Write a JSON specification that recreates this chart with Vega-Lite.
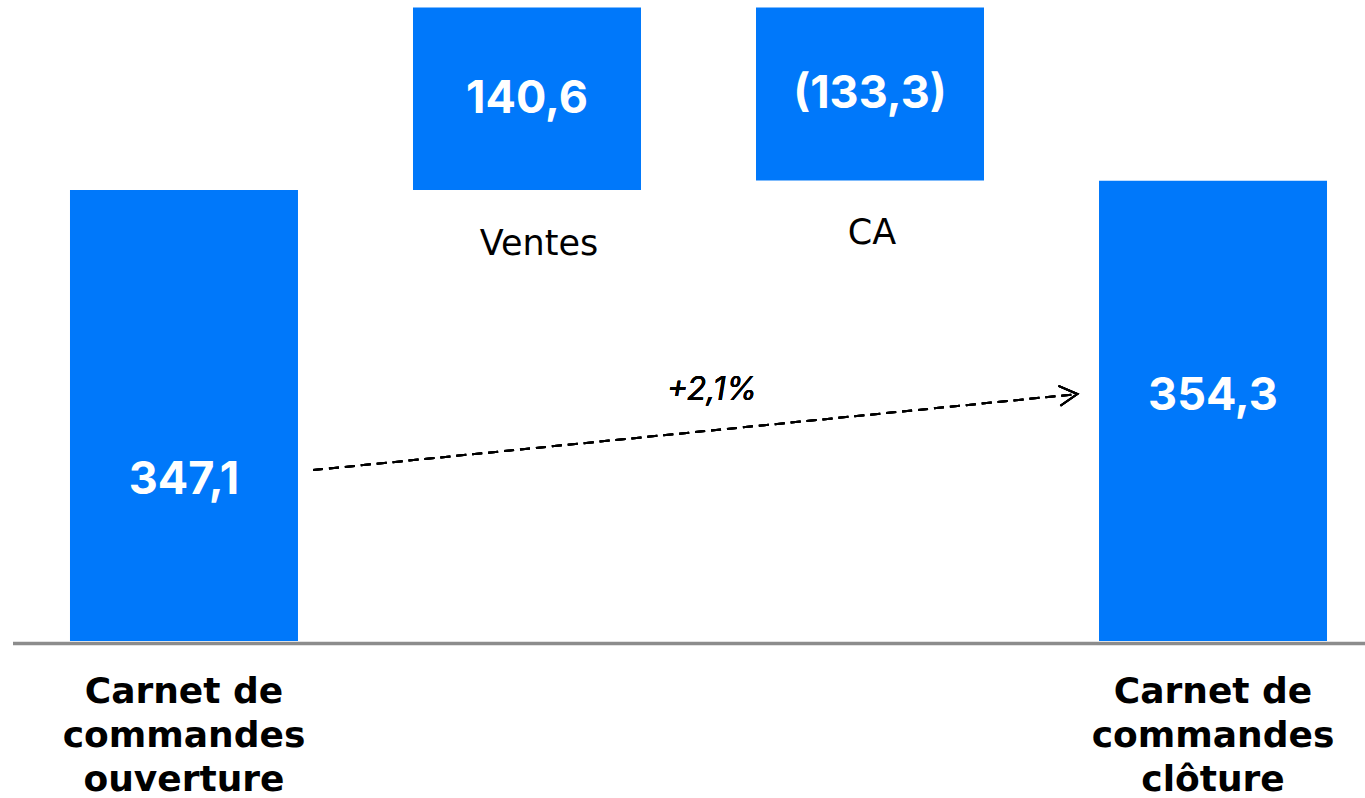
{
  "$schema": "https://vega.github.io/schema/vega-lite/v6.json",
  "width": 1365,
  "height": 643,
  "autosize": {"type": "none"},
  "padding": {"left": 0, "right": 0, "top": 0, "bottom": 155},
  "config": {"view": {"stroke": null}, "font": "Inter"},
  "data": {"values": [
    {"category": "Carnet de commandes ouverture", "start": 0, "end": 347.1, "label": "347,1"},
    {"category": "Ventes", "start": 347.1, "end": 487.7, "label": "140,6"},
    {"category": "CA", "start": 487.7, "end": 354.4, "label": "(133,3)"},
    {"category": "Carnet de commandes clôture", "start": 0, "end": 354.3, "label": "354,3"}
  ]},
  "encoding": {
    "x": {
      "field": "category", "type": "nominal", "sort": null,
      "scale": {"range": [12.5, 1384.5], "paddingInner": 0.3353, "paddingOuter": 0.1676},
      "axis": {
        "title": null, "labelAngle": 0, "ticks": false, "grid": false,
        "domainColor": "#8c8c8c", "domainWidth": 3.5,
        "labelFont": "DejaVu Sans", "labelFontSize": 36, "labelFontWeight": "bold", "labelColor": "#000000",
        "labelLineHeight": 44, "labelPadding": 31, "labelBaseline": "top", "labelLimit": 500,
        "labelOverlap": false, "labelBound": false, "labelFlush": false,
        "labelExpr": "indexof(datum.value, 'Carnet') == 0 ? ['Carnet de', 'commandes', slice(datum.value, 20)] : ''"
      }
    }
  },
  "layer": [
    {
      "mark": {"type": "bar", "color": "#0078FA"},
      "encoding": {
        "y": {"field": "start", "type": "quantitative", "scale": {"domain": [-1.5, 493.4], "nice": false, "zero": false}, "axis": null},
        "y2": {"field": "end"}
      }
    },
    {
      "transform": [
        {"filter": "datum.category == 'Ventes' || datum.category == 'CA'"},
        {"calculate": "(datum.start + datum.end) / 2", "as": "mid"}
      ],
      "mark": {"type": "text", "color": "white", "fontSize": 45, "fontWeight": "bold", "baseline": "middle", "align": "center"},
      "encoding": {
        "y": {"field": "mid", "type": "quantitative"},
        "text": {"field": "label"}
      }
    },
    {
      "transform": [
        {"filter": "datum.category == 'Ventes'"},
        {"calculate": "min(datum.start, datum.end)", "as": "low"}
      ],
      "mark": {"type": "text", "font": "DejaVu Sans", "color": "black", "fontSize": 35, "baseline": "middle", "align": "center", "dy": 54, "dx": 12},
      "encoding": {
        "y": {"field": "low", "type": "quantitative"},
        "text": {"field": "category"}
      }
    },
    {
      "transform": [
        {"filter": "datum.category == 'CA'"},
        {"calculate": "min(datum.start, datum.end)", "as": "low"}
      ],
      "mark": {"type": "text", "font": "DejaVu Sans", "color": "black", "fontSize": 35, "baseline": "middle", "align": "center", "dy": 52, "dx": 2},
      "encoding": {
        "y": {"field": "low", "type": "quantitative"},
        "text": {"field": "category"}
      }
    },
    {
      "transform": [{"filter": "datum.category == 'Carnet de commandes ouverture'"}],
      "mark": {"type": "text", "color": "white", "fontSize": 45, "fontWeight": "bold", "baseline": "middle", "align": "center"},
      "encoding": {
        "y": {"datum": 123.9, "type": "quantitative"},
        "text": {"field": "label"}
      }
    },
    {
      "transform": [{"filter": "datum.category == 'Carnet de commandes clôture'"}],
      "mark": {"type": "text", "color": "white", "fontSize": 45, "fontWeight": "bold", "baseline": "middle", "align": "center"},
      "encoding": {
        "y": {"datum": 188.5, "type": "quantitative"},
        "text": {"field": "label"}
      }
    },
    {
      "mark": {"type": "rule", "color": "black", "strokeWidth": 2, "strokeDash": [10, 6]},
      "encoding": {
        "x": {"datum": "Carnet de commandes ouverture", "bandPosition": 1.066},
        "x2": {"datum": "Carnet de commandes clôture", "bandPosition": -0.095},
        "y": {"datum": 131.6, "type": "quantitative"},
        "y2": {"datum": 190.1}
      }
    },
    {
      "mark": {"type": "point", "shape": "M-1.8,-1L0,0L-1.8,1", "filled": false, "stroke": "black", "strokeWidth": 2, "size": 400, "angle": 354.3, "opacity": 1},
      "encoding": {
        "x": {"datum": "Carnet de commandes clôture", "bandPosition": -0.095},
        "y": {"datum": 190.1, "type": "quantitative"}
      }
    },
    {
      "mark": {"type": "text", "text": "+2,1%", "fontSize": 32, "fontStyle": "italic", "color": "black", "baseline": "middle", "align": "center"},
      "encoding": {
        "x": {"datum": "Ventes", "bandPosition": 1.311},
        "y": {"datum": 193.2, "type": "quantitative"}
      }
    }
  ]
}
